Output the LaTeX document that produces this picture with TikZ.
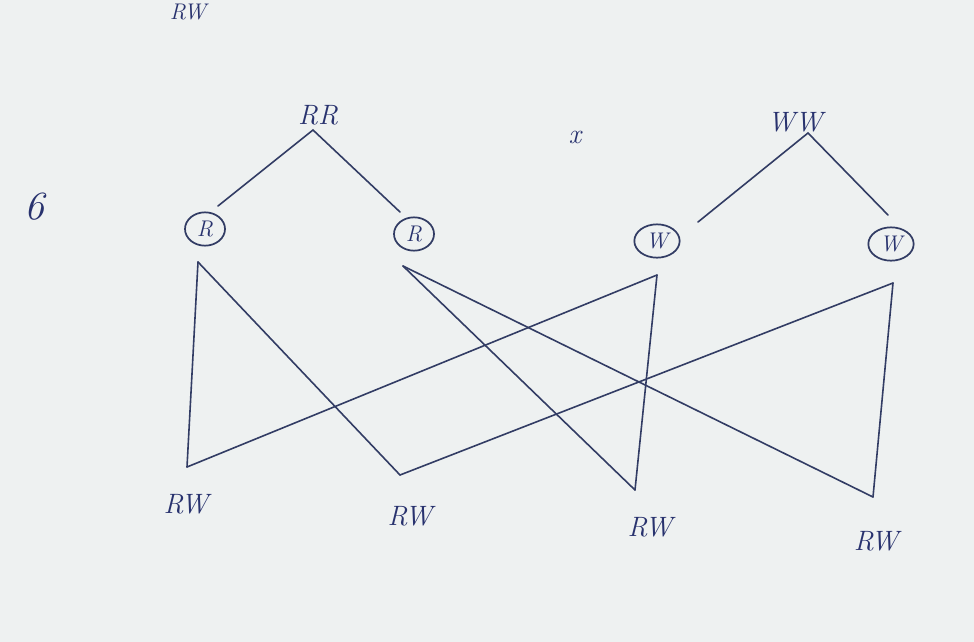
\documentclass[tikz,border=0pt]{standalone}
\usepackage{fontspec}
\usetikzlibrary{shapes.geometric}
\definecolor{paper}{RGB}{238,241,241}
\definecolor{ink}{RGB}{40,50,110}
\definecolor{pen}{RGB}{50,60,100}
\tikzset{
  lbl/.style={text=ink, font=\fontsize{21}{24}\selectfont\itshape, inner sep=0pt},
  gam/.style={draw=pen, line width=1.3pt, ellipse, minimum width=30pt, minimum height=25pt, inner sep=0pt, text=ink, font=\fontsize{17}{20}\selectfont\itshape},
  ln/.style={draw=pen, line width=1.2pt, line cap=round},
}
\begin{document}
\begin{tikzpicture}[x=0.75pt,y=-0.75pt]
\fill[paper] (0,0) rectangle (974,642);
\useasboundingbox (0,0) rectangle (974,642);
% texts
\node[lbl, font=\fontsize{17}{20}\selectfont\itshape] (top) at (188,12) {RW};
\node[lbl, font=\fontsize{30}{34}\selectfont\itshape] (six) at (34,207) {6};
\node[lbl] (rr) at (318,115) {RR};
\node[lbl] (cross) at (575,137) {x};
\node[lbl] (ww) at (795,122) {WW};
% gametes
\node[gam] (r1) at (205,229) {R};
\node[gam] (r2) at (414,234) {R};
\node[gam, minimum width=34pt] (w1) at (657,241) {W};
\node[gam, minimum width=34pt] (w2) at (891,244) {W};
% tree coordinates
\coordinate (rrA) at (313,130);
\coordinate (wwA) at (808,133);
\coordinate (r1t) at (218,206);
\coordinate (r2t) at (400,212);
\coordinate (w1t) at (698,222);
\coordinate (w2t) at (888,215);
\coordinate (r1b) at (198,262);
\coordinate (r2b) at (403,266);
\coordinate (w1b) at (657,275);
\coordinate (w2b) at (893,283);
% offspring points
\coordinate (o1) at (187,467);
\coordinate (o2) at (400,475);
\coordinate (o3) at (635,490);
\coordinate (o4) at (873,497);
\node[lbl] (l1) at (186,504) {RW};
\node[lbl] (l2) at (410,516) {RW};
\node[lbl] (l3) at (650,527) {RW};
\node[lbl] (l4) at (876,541) {RW};
% parent to gametes
\draw[ln] (r1t) -- (rrA) -- (r2t);
\draw[ln] (w1t) -- (wwA) -- (w2t);
% gametes to offspring
\draw[ln] (r1b) -- (o1);
\draw[ln] (r1b) -- (o2);
\draw[ln] (r2b) -- (o3);
\draw[ln] (r2b) -- (o4);
\draw[ln] (w1b) -- (o1);
\draw[ln] (w1b) -- (o3);
\draw[ln] (w2b) -- (o2);
\draw[ln] (w2b) -- (o4);
\end{tikzpicture}
\end{document}
